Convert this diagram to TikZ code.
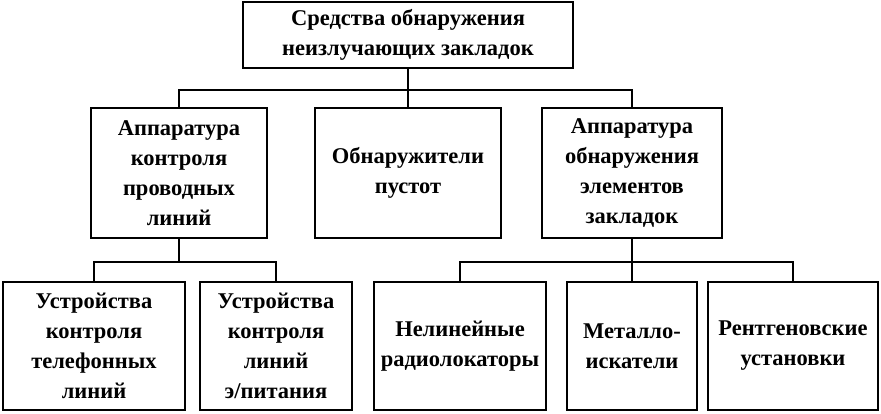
\documentclass[tikz,border=0pt]{standalone}
\usepackage{fontspec}
\setmainfont{Liberation Serif}
\usepackage{tikz}
\tikzset{>=latex}
\tikzset{block/.style={draw, line width=2.6pt, align=center, inner sep=1pt,
    font=\fontsize{22.5}{30}\selectfont\bfseries}}
\tikzset{link/.style={line width=2.6pt}}

\begin{document}
\begin{tikzpicture}[x=1pt, y=-1pt]
    \useasboundingbox(0, 0) rectangle (881, 414);
    \node[block, minimum width=330pt, minimum height=66pt](top) at (408, 35){Средства обнаружения\\неизлучающих закладок};
    \node[block, minimum width=176pt, minimum height=130pt](wires) at (179, 173){Аппаратура\\контроля\\проводных\\линий};
    \node[block, minimum width=186pt, minimum height=130pt](voids) at (408, 173){Обнаружители\\пустот};
    \node[block, minimum width=180pt, minimum height=130pt](elems) at (632, 173){Аппаратура\\обнаружения\\элементов\\закладок};
    \node[block, minimum width=182pt, minimum height=128pt](phone) at (94, 346){Устройства\\контроля\\телефонных\\линий};
    \node[block, minimum width=152pt, minimum height=128pt](power) at (276, 346){Устройства\\контроля\\линий\\э/питания};
    \node[block, minimum width=172pt, minimum height=128pt](radar) at (460, 346){Нелинейные\\радиолокаторы};
    \node[block, minimum width=130pt, minimum height=128pt](metal) at (632, 346){Металло-\\искатели};
    \node[block, minimum width=170pt, minimum height=128pt](xray) at (793, 346){Рентгеновские\\установки};
    % shared buses
    \coordinate(bus1) at (top.south |- 0, 90);
    \coordinate(bus2) at (wires.south |- 0, 262);
    \coordinate(bus3) at (elems.south |- 0, 262);
    \draw[link](top.south)--(bus1);
    \draw[link](wires.north)|-(bus1)-|(elems.north);
    \draw[link](bus1)--(voids.north);
    \draw[link](wires.south)--(bus2);
    \draw[link](phone.north)|-(bus2)-|(power.north);
    \draw[link](elems.south)--(bus3);
    \draw[link](radar.north)|-(bus3)-|(xray.north);
    \draw[link](bus3)--(metal.north);
\end{tikzpicture}
\end{document}
